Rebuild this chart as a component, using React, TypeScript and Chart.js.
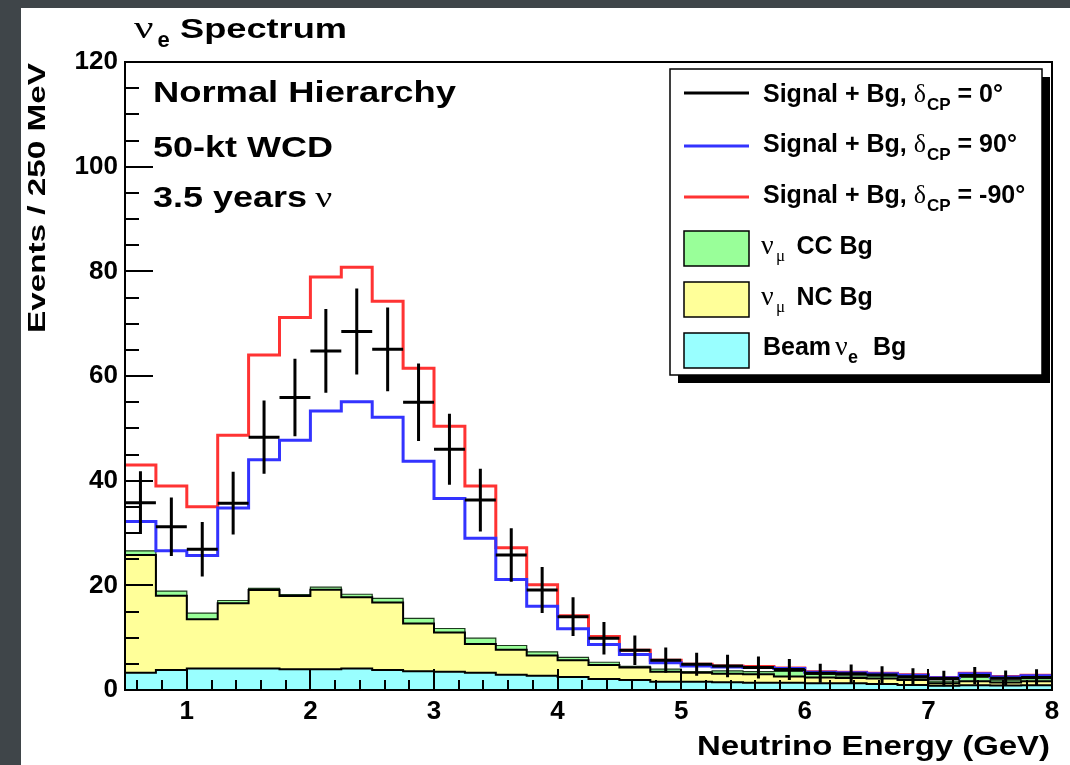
import React, { useEffect, useRef } from "react";
import { Chart, registerables } from "chart.js";

Chart.register(...registerables);

// ---------- data ----------
const binEdges = [0.5, 0.75, 1.0, 1.25, 1.5, 1.75, 2.0, 2.25, 2.5, 2.75, 3.0, 3.25, 3.5, 3.75, 4.0, 4.25, 4.5, 4.75, 5.0, 5.25, 5.5, 5.75, 6.0, 6.25, 6.5, 6.75, 7.0, 7.25, 7.5, 7.75, 8.0];

const sigBgDelta0 = [35.8, 31.2, 26.9, 35.7, 48.3, 55.9, 64.8, 68.5, 65.1, 55.0, 46.0, 36.3, 25.8, 19.1, 14.0, 9.9, 7.6, 5.7, 4.9, 4.6, 4.3, 3.9, 3.2, 3.1, 2.85, 2.55, 2.2, 2.75, 2.25, 2.4];
const sigBgDelta0Err = [6.0, 5.6, 5.2, 6.0, 7.0, 7.4, 8.0, 8.2, 8.0, 7.4, 6.8, 6.0, 5.1, 4.4, 3.7, 3.1, 2.8, 2.4, 2.2, 2.15, 2.1, 2.0, 1.8, 1.75, 1.7, 1.6, 1.5, 1.65, 1.5, 1.55];
const sigBgDelta90 = [32.2, 26.6, 25.7, 34.8, 44.0, 47.7, 53.3, 55.1, 52.1, 43.7, 36.6, 29.0, 21.1, 16.0, 11.7, 8.7, 6.8, 5.2, 4.6, 4.4, 4.3, 4.1, 3.4, 3.3, 3.1, 2.8, 2.35, 3.1, 2.5, 2.7];
const sigBgDeltaM90 = [43.0, 39.0, 35.0, 48.7, 64.0, 71.2, 78.9, 80.8, 74.3, 61.5, 50.4, 39.0, 27.2, 20.1, 14.2, 10.2, 7.6, 5.7, 4.9, 4.6, 4.5, 4.2, 3.5, 3.4, 3.2, 2.9, 2.4, 3.2, 2.6, 2.8];

const beamNueBg = [3.3, 3.8, 4.1, 4.1, 4.1, 3.95, 3.95, 4.1, 3.8, 3.6, 3.5, 3.3, 2.9, 2.7, 2.5, 2.1, 1.9, 1.6, 1.6, 1.5, 1.4, 1.4, 1.3, 1.3, 1.15, 0.95, 0.8, 0.9, 0.85, 0.9];
const numuNCBg = [22.5, 14.2, 9.4, 12.5, 15.0, 14.0, 15.2, 13.6, 12.9, 9.1, 7.5, 5.5, 4.8, 3.9, 3.2, 2.7, 2.4, 1.9, 1.7, 1.6, 1.6, 1.2, 1.1, 1.0, 1.05, 0.95, 0.5, 0.75, 0.6, 0.75];
const numuCCBg = [0.8, 0.9, 1.2, 0.5, 0.3, 0.3, 0.5, 0.6, 0.8, 1.0, 0.75, 1.1, 0.8, 0.7, 0.55, 0.5, 0.2, 0.5, 0.2, 0.55, 0.5, 0.95, 0.6, 0.4, 0.5, 0.25, 0.4, 0.75, 0.45, 0.5];

const xTickValues = [1, 2, 3, 4, 5, 6, 7, 8];
const yTickValues = [0, 20, 40, 60, 80, 100, 120];

const xAxisTitle = "Neutrino Energy (GeV)";
const yAxisTitle = "Events / 250 MeV";
const annotationLines = ["Normal Hierarchy", "50-kt WCD", "3.5 years"];

const SANS = '"Liberation Sans", Arial, Helvetica, sans-serif';
const SERIF = '"Liberation Serif", "Times New Roman", serif';

const COL_RED = "#ff3333";
const COL_BLUE = "#3333ff";
const COL_GREEN = "#99ff99";
const COL_YELLOW = "#ffff99";
const COL_CYAN = "#99ffff";

// ---------- helpers ----------
function stepPoints(values: number[]) {
  const pts = values.map((v, i) => ({ x: binEdges[i], y: v }));
  pts.push({ x: binEdges[values.length], y: values[values.length - 1] });
  return pts;
}

function cumulative(...arrs: number[][]) {
  return arrs[0].map((_, i) => arrs.reduce((s, a) => s + a[i], 0));
}

function drawText(
  ctx: CanvasRenderingContext2D,
  text: string,
  x: number,
  y: number,
  font: string,
  opts: { sx?: number; width?: number; align?: CanvasTextAlign } = {}
) {
  ctx.save();
  ctx.font = font;
  const w = ctx.measureText(text).width;
  const sx = opts.width ? opts.width / w : opts.sx ?? 1;
  ctx.translate(x, y);
  ctx.scale(sx, 1);
  ctx.textAlign = opts.align || "left";
  ctx.textBaseline = "alphabetic";
  ctx.fillStyle = "#000";
  ctx.fillText(text, 0, 0);
  ctx.restore();
  return w * sx;
}

const decorPlugin = {
  id: "rootDecor",
  beforeDraw(chart: any) {
    const ctx: CanvasRenderingContext2D = chart.ctx;
    ctx.save();
    ctx.fillStyle = "#3f4549";
    ctx.fillRect(0, 0, chart.width, chart.height);
    ctx.fillStyle = "#ffffff";
    ctx.fillRect(21, 8, chart.width - 21, chart.height - 8);
    ctx.restore();
  },
  afterDatasetsDraw(chart: any) {
    const ctx: CanvasRenderingContext2D = chart.ctx;
    const xs = chart.scales.x;
    const ys = chart.scales.y;
    const a = chart.chartArea;

    // data points with error bars
    ctx.save();
    ctx.beginPath();
    ctx.rect(a.left, a.top, a.right - a.left, a.bottom - a.top);
    ctx.clip();
    ctx.strokeStyle = "#000";
    ctx.lineWidth = 3;
    ctx.beginPath();
    sigBgDelta0.forEach((v, i) => {
      const x0 = xs.getPixelForValue(binEdges[i]);
      const x1 = xs.getPixelForValue(binEdges[i + 1]);
      const xc = (x0 + x1) / 2;
      const y = ys.getPixelForValue(v);
      ctx.moveTo(x0, y);
      ctx.lineTo(x1, y);
      ctx.moveTo(xc, ys.getPixelForValue(v + sigBgDelta0Err[i]));
      ctx.lineTo(xc, ys.getPixelForValue(Math.max(0, v - sigBgDelta0Err[i])));
    });
    ctx.stroke();
    ctx.restore();

    // ticks (inside, ROOT style)
    ctx.save();
    ctx.strokeStyle = "#000";
    ctx.lineWidth = 2;
    ctx.beginPath();
    for (let k = 1; k < 24; k++) {
      const v = k * 5;
      const y = Math.round(ys.getPixelForValue(v));
      const len = v % 20 === 0 ? 28 : 14;
      ctx.moveTo(a.left, y);
      ctx.lineTo(a.left + len, y);
    }
    for (let k = 3; k < 40; k++) {
      const v = k * 0.2;
      const x = Math.round(xs.getPixelForValue(v));
      const major = Math.abs(v - Math.round(v)) < 1e-6;
      const len = major ? 21 : 10;
      ctx.moveTo(x, a.bottom);
      ctx.lineTo(x, a.bottom - len);
    }
    ctx.stroke();
    // frame
    ctx.lineWidth = 2;
    ctx.strokeRect(a.left, a.top, a.right - a.left, a.bottom - a.top);
    ctx.restore();

    // ---- legend ----
    const L = 670, T = 69, W = 372, H = 306;
    ctx.save();
    ctx.fillStyle = "#000";
    ctx.fillRect(L + 8, T + 8, W, H);
    ctx.fillStyle = "#fff";
    ctx.fillRect(L, T, W, H);
    ctx.strokeStyle = "#000";
    ctx.lineWidth = 1.5;
    ctx.strokeRect(L, T, W, H);

    const lineRows = [
      { color: "#000", y: 93 },
      { color: COL_BLUE, y: 146 },
      { color: COL_RED, y: 197 },
    ];
    lineRows.forEach((r) => {
      ctx.strokeStyle = r.color;
      ctx.lineWidth = 3;
      ctx.beginPath();
      ctx.moveTo(684, r.y);
      ctx.lineTo(749, r.y);
      ctx.stroke();
    });
    const boxRows = [
      { color: COL_GREEN, y: 231 },
      { color: COL_YELLOW, y: 282 },
      { color: COL_CYAN, y: 333 },
    ];
    boxRows.forEach((r) => {
      ctx.fillStyle = r.color;
      ctx.fillRect(684, r.y, 65, 35);
      ctx.strokeStyle = "#000";
      ctx.lineWidth = 1.5;
      ctx.strokeRect(684, r.y, 65, 35);
    });
    ctx.restore();

    const LF = `bold 25px ${SANS}`;
    const deltaLabels = ["= 0°", "= 90°", "= -90°"];
    const baselines = [101.5, 152, 202.5];
    deltaLabels.forEach((lab, i) => {
      const yb = baselines[i];
      let x = 763;
      x += drawText(ctx, "Signal + Bg, ", x, yb, LF);
      x += drawText(ctx, "δ", x, yb, `26px ${SERIF}`);
      x += drawText(ctx, "CP", x + 1, yb + 8, `bold 17px ${SANS}`) + 1;
      drawText(ctx, " " + lab, x, yb, LF);
    });
    // nu_mu CC / NC
    [
      { txt: "CC Bg", yb: 253.5 },
      { txt: "NC Bg", yb: 304.5 },
    ].forEach((r) => {
      drawText(ctx, "ν", 761, r.yb, `28px ${SERIF}`);
      drawText(ctx, "μ", 776, r.yb + 7, `17px ${SERIF}`);
      drawText(ctx, r.txt, 796.5, r.yb, LF);
    });
    drawText(ctx, "Beam", 763, 355, LF);
    drawText(ctx, "ν", 835, 355, `28px ${SERIF}`);
    drawText(ctx, "e", 848, 362.5, `bold 18px ${SANS}`);
    drawText(ctx, "Bg", 873, 355, LF);

    // ---- titles & annotations ----
    drawText(ctx, "ν", 134, 38, `32px ${SERIF}`, { sx: 1.35 });
    drawText(ctx, "e", 157.5, 46.5, `bold 22px ${SANS}`);
    drawText(ctx, "Spectrum", 180, 38, `bold 27px ${SANS}`, { width: 167 });

    const AF = `bold 30px ${SANS}`;
    drawText(ctx, annotationLines[0], 153, 102, AF, { width: 303 });
    drawText(ctx, annotationLines[1], 153, 157, AF, { sx: 1.2 });
    const w3 = drawText(ctx, annotationLines[2], 153, 207, AF, { sx: 1.2 });
    drawText(ctx, "ν", 153 + w3 + 8, 207, `30px ${SERIF}`, { sx: 1.25 });

    drawText(ctx, xAxisTitle, 1050, 755, `bold 28px ${SANS}`, { width: 353, align: "right" });

    ctx.save();
    ctx.translate(45, 333);
    ctx.rotate(-Math.PI / 2);
    drawText(ctx, yAxisTitle, 0, 0, `bold 23px ${SANS}`, { width: 270 });
    ctx.restore();
  },
};

export default function App() {
  const ref = useRef<HTMLCanvasElement | null>(null);

  useEffect(() => {
    if (!ref.current) return;
    const cyanTop = cumulative(beamNueBg);
    const yellowTop = cumulative(beamNueBg, numuNCBg);
    const greenTop = cumulative(beamNueBg, numuNCBg, numuCCBg);

    const lineBase = {
      stepped: "before" as const,
      pointRadius: 0,
      pointHoverRadius: 0,
      tension: 0,
    };

    const chart = new Chart(ref.current, {
      type: "line",
      data: {
        datasets: [
          { ...lineBase, label: "Signal + Bg, δCP = 90°", data: stepPoints(sigBgDelta90), borderColor: COL_BLUE, borderWidth: 3, fill: false, order: 1 },
          { ...lineBase, label: "Signal + Bg, δCP = -90°", data: stepPoints(sigBgDeltaM90), borderColor: COL_RED, borderWidth: 3, fill: false, order: 2 },
          { ...lineBase, label: "Beam νe Bg", data: stepPoints(cyanTop), borderColor: "#000", borderWidth: 2, backgroundColor: COL_CYAN, fill: "origin", order: 3 },
          { ...lineBase, label: "νμ NC Bg", data: stepPoints(yellowTop), borderColor: "#000", borderWidth: 2, backgroundColor: COL_YELLOW, fill: "origin", order: 4 },
          { ...lineBase, label: "νμ CC Bg", data: stepPoints(greenTop), borderColor: "#1e3a1e", borderWidth: 1.2, backgroundColor: COL_GREEN, fill: "origin", order: 5 },
        ] as any,
      },
      options: {
        responsive: false,
        animation: false,
        devicePixelRatio: 1,
        layout: { padding: { left: 0, top: 62, right: 18, bottom: 0 } },
        plugins: {
          legend: { display: false },
          tooltip: { enabled: false },
          title: { display: false },
        },
        events: [],
        scales: {
          x: {
            type: "linear",
            min: 0.5,
            max: 8,
            grid: { display: false, drawTicks: false },
            border: { display: false },
            afterBuildTicks: (s: any) => {
              s.ticks = xTickValues.map((v) => ({ value: v }));
            },
            afterFit: (s: any) => {
              s.height = 75;
            },
            ticks: {
              autoSkip: false,
              maxRotation: 0,
              padding: 6,
              color: "#000",
              font: { family: SANS, size: 26, weight: "bold" },
              callback: (v: any) => String(v),
            },
          },
          y: {
            type: "linear",
            min: 0,
            max: 120,
            grid: { display: false, drawTicks: false },
            border: { display: false },
            afterBuildTicks: (s: any) => {
              s.ticks = yTickValues.map((v) => ({ value: v }));
            },
            afterFit: (s: any) => {
              s.width = 125;
            },
            ticks: {
              autoSkip: false,
              padding: 7,
              color: "#000",
              font: { family: SANS, size: 26, weight: "bold" },
              callback: (v: any) => String(v),
            },
          },
        },
      } as any,
      plugins: [decorPlugin],
    });
    return () => chart.destroy();
  }, []);

  return (
    <div style={{ position: "fixed", left: 0, top: 0, width: 1070, height: 765, background: "#3f4549" }}>
      <canvas ref={ref} width={1070} height={765} style={{ display: "block", width: 1070, height: 765 }} />
    </div>
  );
}
